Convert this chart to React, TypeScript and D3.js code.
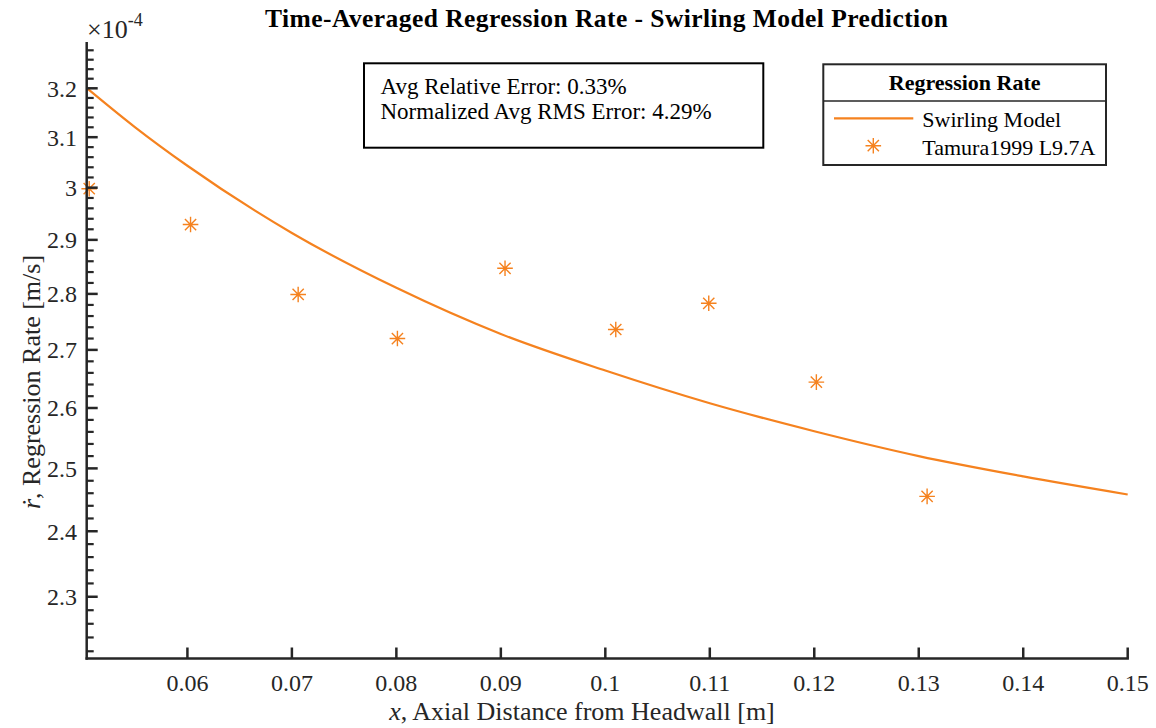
import React from "react";
import * as d3 from "d3";

// swirling model curve (y in 1e-4 m/s)
const modelX = [0.0504, 0.055, 0.06, 0.07, 0.08, 0.09, 0.1, 0.11, 0.12, 0.13, 0.14, 0.15];
const modelY = [3.2, 3.12, 3.043, 2.913, 2.811, 2.728, 2.664, 2.608, 2.561, 2.52, 2.487, 2.458];

// Tamura1999 L9.7A measurements
const tamuraX = [0.0506, 0.0603, 0.0706, 0.0801, 0.0904, 0.101, 0.1099, 0.1202, 0.1308];
const tamuraY = [2.998, 2.929, 2.799, 2.72, 2.847, 2.736, 2.783, 2.644, 2.455];

const xTicks = [0.06, 0.07, 0.08, 0.09, 0.1, 0.11, 0.12, 0.13, 0.14, 0.15];
const xTickLabels = ["0.06", "0.07", "0.08", "0.09", "0.1", "0.11", "0.12", "0.13", "0.14", "0.15"];
const yTicks = [2.3, 2.4, 2.5, 2.6, 2.7, 2.8, 2.9, 3.0, 3.1, 3.2];
const yTickLabels = ["2.3", "2.4", "2.5", "2.6", "2.7", "2.8", "2.9", "3", "3.1", "3.2"];

const errorLines = ["Avg Relative Error: 0.33%", "Normalized Avg RMS Error: 4.29%"];
const legendTitle = "Regression Rate";
const seriesNames = ["Swirling Model", "Tamura1999 L9.7A"];

const W = 1156;
const H = 728;
const left = 86.7;
const right = 1127.7;
const top = 42;
const bottom = 658.5;

const orange = "#F5821F";
const axisColor = "#262626";
const serif = "'Liberation Serif', 'Times New Roman', 'DejaVu Serif', serif";

// matlab style '*' marker
const star = (r: number) => {
  const d = r * 0.72;
  return `M0,${-r}V${r}M${-r},0H${r}M${-d},${-d}L${d},${d}M${-d},${d}L${d},${-d}`;
};

const App = () => {
  const x = d3.scaleLinear().domain([0.05036, 0.15]).range([left, right]);
  const y = d3.scaleLog().domain([2.2096, 3.2977]).range([bottom, top]);

  const line = d3
    .line<number>()
    .x((d, i) => x(modelX[i]))
    .y((d) => y(d))
    .curve(d3.curveMonotoneX);

  // minor ticks every 0.02
  const minor: number[] = [];
  for (let k = 111; k <= 164; k++) {
    if (k % 5 !== 0) minor.push(k / 50);
  }

  return (
    <svg
      width={W}
      height={H}
      style={{ position: "fixed", left: 0, top: 0, background: "#fff" }}
      fontFamily={serif}
    >
      <rect width={W} height={H} fill="#fff" />

      {/* title */}
      <text x={606.5} y={27} textAnchor="middle" fontWeight="bold" fontSize={25.5} textLength={683} fill="#000">
        Time-Averaged Regression Rate - Swirling Model Prediction
      </text>

      {/* model curve */}
      <path d={line(modelY) || ""} fill="none" stroke={orange} strokeWidth={2.2} />

      {/* data markers */}
      {tamuraY.map((v, i) => (
        <path
          key={i}
          d={star(7.8)}
          transform={`translate(${x(tamuraX[i])},${y(v)})`}
          stroke={orange}
          strokeWidth={1.4}
          fill="none"
        />
      ))}

      {/* axes */}
      <g stroke={axisColor} strokeWidth={2.5} fill="none">
        <line x1={left} x2={left} y1={top} y2={bottom + 1.2} />
        <line x1={left - 1.2} x2={right + 1.2} y1={bottom} y2={bottom} />
        {xTicks.map((t) => (
          <line key={t} x1={x(t)} x2={x(t)} y1={bottom} y2={bottom - 11} />
        ))}
        {yTicks.map((t) => (
          <line key={t} x1={left} x2={left + 11} y1={y(t)} y2={y(t)} />
        ))}
        {minor.map((t) => (
          <line key={t} x1={left} x2={left + 7} y1={y(t)} y2={y(t)} strokeWidth={2.2} />
        ))}
      </g>

      {/* tick labels */}
      <g fill={axisColor} fontSize={24}>
        {xTicks.map((t, i) => (
          <text key={t} x={x(t)} y={691} textAnchor="middle">
            {xTickLabels[i]}
          </text>
        ))}
        {yTicks.map((t, i) => (
          <text key={t} x={77} y={y(t) + 8.5} textAnchor="end">
            {yTickLabels[i]}
          </text>
        ))}
      </g>

      {/* exponent */}
      <text x={87} y={38} fontSize={26} fill={axisColor}>
        ×10
        <tspan dy={-12} fontSize={18}>-4</tspan>
      </text>

      {/* axis labels */}
      <text x={582} y={720} textAnchor="middle" fontSize={26} fill={axisColor}>
        <tspan fontStyle="italic">x</tspan>, Axial Distance from Headwall [m]
      </text>
      <text transform="translate(40,382) rotate(-90)" textAnchor="middle" fontSize={26} fill={axisColor}>
        <tspan fontStyle="italic">ṙ</tspan>, Regression Rate [m/s]
      </text>

      {/* error textbox */}
      <rect x={364} y={63.3} width={399.3} height={84.4} fill="#fff" stroke="#000" strokeWidth={2} />
      {errorLines.map((s, i) => (
        <text key={s} x={380.5} y={93.5 + i * 25.5} fontSize={23} fill="#000">
          {s}
        </text>
      ))}

      {/* legend */}
      <rect x={823.3} y={64.3} width={282.7} height={100.7} fill="#fff" stroke="#262626" strokeWidth={2} />
      <line x1={823.3} x2={1106} y1={101} y2={101} stroke="#262626" strokeWidth={1.5} />
      <text x={964.7} y={90} textAnchor="middle" fontWeight="bold" fontSize={22} fill="#000">
        {legendTitle}
      </text>
      <line x1={834} x2={913.3} y1={118.3} y2={118.3} stroke={orange} strokeWidth={2.2} />
      <path d={star(7.8)} transform="translate(873.3,145.7)" stroke={orange} strokeWidth={1.4} fill="none" />
      <text x={922.3} y={126.5} fontSize={22} fill="#000">
        {seriesNames[0]}
      </text>
      <text x={922.3} y={155} fontSize={22} fill="#000">
        {seriesNames[1]}
      </text>
    </svg>
  );
};

export default App;
